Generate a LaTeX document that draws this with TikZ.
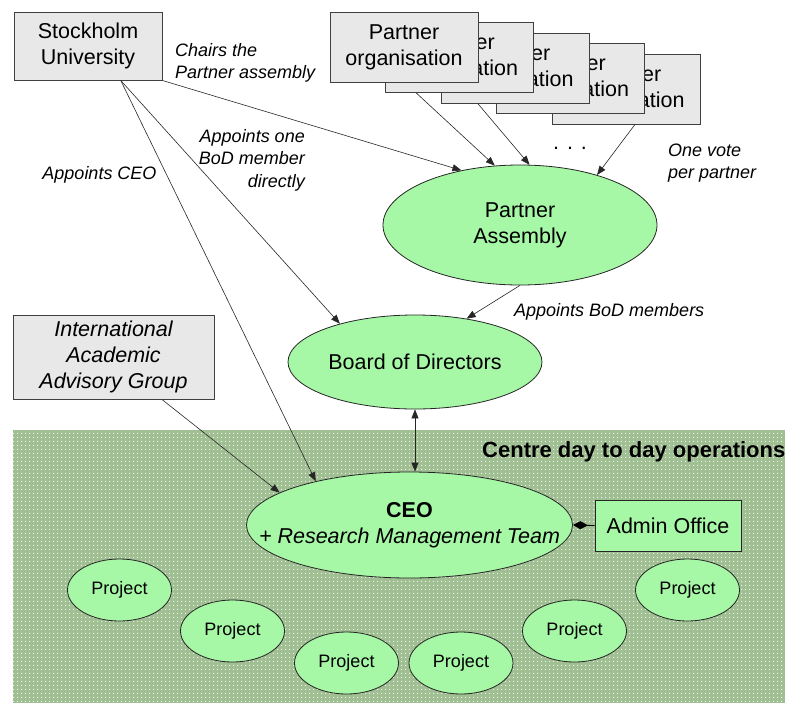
\documentclass[tikz,border=0pt]{standalone}
\usepackage{fontspec}
\setmainfont{Liberation Sans}
\usetikzlibrary{arrows.meta, positioning, shapes.geometric, calc, patterns}
\definecolor{cbox}{HTML}{E8E8E8}
\definecolor{cedge}{HTML}{404040}
\definecolor{cgreen}{HTML}{A6F7A6}
\definecolor{cfield}{HTML}{A0BF92}
\newcommand{\mainsz}{\fontsize{21.5}{26}\selectfont}
\newcommand{\labsz}{\fontsize{18}{22.5}\selectfont}
\newcommand{\projsz}{\fontsize{18}{22}\selectfont}
\pgfdeclarepatternformonly{fielddots}{\pgfpointorigin}{\pgfpoint{4pt}{4pt}}{\pgfpoint{4pt}{4pt}}{%
  \pgfpathcircle{\pgfpoint{2pt}{2pt}}{0.7pt}\pgfusepath{fill}}
\tikzset{
  gbox/.style={draw=cedge, fill=cbox, line width=1pt, inner sep=0pt,
               align=center, font=\mainsz},
  abox/.style={draw=black!85, fill=cgreen, line width=0.8pt, inner sep=0pt,
               align=center, font=\mainsz},
  ebox/.style={ellipse, draw=black!85, fill=cgreen, line width=0.8pt,
               inner sep=0pt, align=center, font=\mainsz},
  etext/.style={font=\mainsz, align=center, inner sep=0pt},
  proj/.style={ebox, minimum width=104pt, minimum height=62pt, font=\projsz},
  lbl/.style={font=\labsz\itshape, inner sep=0pt},
  arr/.style={-{Triangle[length=9pt,width=7pt]}, line width=0.6pt, black!85},
}

\begin{document}
\begin{tikzpicture}[x=1pt, y=-1pt]
  \useasboundingbox (0,0) rectangle (785,702);
  \clip (0,0) rectangle (785,702);

  % day to day field
  \fill[cfield] (13,430) rectangle (800,710);
  \fill[pattern=fielddots, pattern color=white!90!cfield] (13,430) rectangle (800,710);
  \node[font=\fontsize{22}{26}\selectfont\bfseries, anchor=west, inner sep=0pt]
    (field) at (482,452) {Centre day to day operations};

  % governance
  \node[gbox, minimum width=148pt, minimum height=68pt]
    (su) at (88,46) {Stockholm\\University};
  \foreach \i in {5,...,1}
    \node[gbox, minimum width=148pt, minimum height=70pt]
      (pb\i) at ({404+55.5*(\i-1)}, {47+10.5*(\i-1)}) {Partner\\organisation};
  \node[ebox, minimum width=274pt, minimum height=120pt,
        label={[etext]center:Partner\\Assembly}] (pa) at (520,225) {};
  \node[ebox, minimum width=254pt, minimum height=94pt,
        label={[etext]center:Board of Directors}] (bod) at (415,362) {};
  \node[gbox, minimum width=201pt, minimum height=84pt, font=\mainsz\itshape]
    (iaag) at (113.5,357) {International\\Academic\\Advisory Group};

  % operations
  \node[ebox, minimum width=326pt, minimum height=106pt,
        label={[etext]center:\textbf{CEO}\\\textit{+ Research Management Team}}]
    (ceo) at (409.5,525) {};
  \node[abox, minimum width=146pt, minimum height=51pt]
    (admin) at (668,525.5) {Admin Office};
  \node[proj] (pr1) at (119.5,590) {Project};
  \node[proj] (pr2) at (232.5,631) {Project};
  \node[proj] (pr3) at (346.5,663) {Project};
  \node[proj] (pr4) at (461,663) {Project};
  \node[proj] (pr5) at (574.5,631) {Project};
  \node[proj] (pr6) at (687.5,590) {Project};

  % connectors
  \coordinate (suout) at ($(su.south west)!0.72!(su.south east)$);
  \draw[arr] (su.south east) -- (pa.137);
  \draw[arr] (suout) -- (bod.153);
  \draw[arr] (suout) -- (ceo.155);
  \draw[arr] ($(pb2.south west)!0.21!(pb2.south east)$) -- (pa.113);
  \draw[arr] ($(pb3.south west)!0.25!(pb3.south east)$) -- (pa.81);
  \draw[arr] ($(pb5.south west)!0.56!(pb5.south east)$) -- (pa.33);
  \draw[arr] (pa.south) -- (bod.40);
  \draw[arr] ($(iaag.south west)!0.74!(iaag.south east)$) -- (ceo.166);
  \draw[arr, {Triangle[length=9pt,width=7pt]}-{Triangle[length=9pt,width=7pt]}]
    (bod.south) -- (bod.south |- ceo.north);
  \draw[{Diamond[length=15pt,width=8pt]}-, line width=0.8pt] (ceo.east) -- (admin.west);

  % labels
  \node[lbl, anchor=west, align=left] (lchair) at (175,63) {Chairs the\\Partner assembly};
  \node[lbl, anchor=east, align=right] (lbod) at (305,160) {Appoints one\\BoD member\\directly};
  \node[lbl] (lceo) at (99.5,175) {Appoints CEO};
  \node[lbl, anchor=west, align=left] (lvote) at (668,163) {One vote\\per partner};
  \node[lbl, anchor=west] (lmem) at (514,312) {Appoints BoD members};
  \node[font=\mainsz, inner sep=0pt] (dots) at (570,148) {. . .};
\end{tikzpicture}
\end{document}
